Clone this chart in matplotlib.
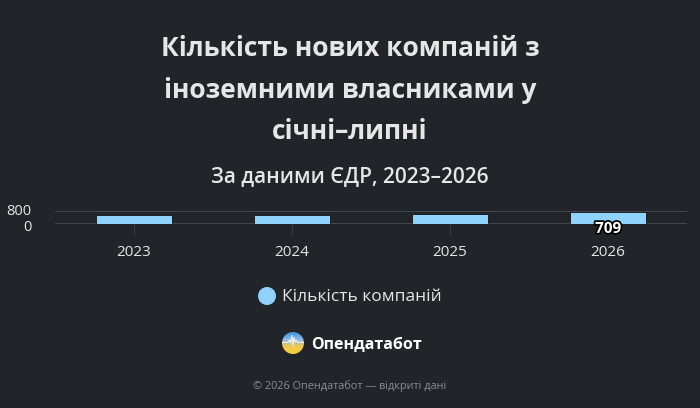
import numpy as np
import matplotlib
matplotlib.use("Agg")
import matplotlib.pyplot as plt
from matplotlib.patches import Circle, Ellipse
import matplotlib.patheffects as pe
import matplotlib.transforms as mtransforms

plt.rcParams['font.family'] = ['Open Sans', 'DejaVu Sans']

# data
years = ['2023', '2024', '2025', '2026']
companies = [560, 565, 630, 709]
labelled = [False, False, False, True]
y_ticks = [0, 800]

title = 'Кількість нових компаній з\nіноземними власниками у\nсічні–липні'
subtitle = 'За даними ЄДР, 2023–2026'
legend_label = 'Кількість компаній'
brand = 'Опендатабот'
footer = '© 2026 Опендатабот — відкриті дані'

bg = '#212428'
bar_color = '#8fd3fd'
text_color = '#e6e6e6'

W, H = 700, 408
fig = plt.figure(figsize=(W / 100, H / 100), dpi=100, facecolor=bg)

def fx(px):
    return px / W

def fy(py):
    return 1 - py / H

# titles
fig.text(0.5, fy(90), title, ha='center', va='center', fontsize=19,
         fontweight='bold', color=text_color, linespacing=1.68)
fig.text(0.5, fy(177), subtitle, ha='center', va='center', fontsize=15,
         fontweight='semibold', color=text_color)

# plot area
ax = fig.add_axes([fx(55), fy(224), fx(632), fy(211) - fy(224)])
ax.set_facecolor(bg)
x = np.arange(len(years))
ax.bar(x, companies, width=0.48, color=bar_color, edgecolor='#111316',
       linewidth=0.6, zorder=3)
ax.set_xlim(-0.5, len(years) - 0.5)
ax.set_ylim(0, 800)
ax.set_yticks(y_ticks)
ax.set_yticklabels([str(v) for v in y_ticks])
ax.set_xticks(x)
ax.set_xticklabels(years)
for s in ax.spines.values():
    s.set_visible(False)
ax.grid(axis='y', color='#4a4d52', linewidth=1.2, zorder=0)
ax.tick_params(axis='y', length=0, pad=17, labelsize=10.5, labelcolor=text_color)
ax.tick_params(axis='x', length=8, width=0.8, color='#3a3d42', pad=7,
               labelsize=11, labelcolor=text_color)
# nudge the two y labels apart a little so they do not collide
for lab, dy in zip(ax.get_yticklabels(), [-1.5, 1.5]):
    lab.set_transform(lab.get_transform() +
                      mtransforms.ScaledTranslation(0, dy / 100, fig.dpi_scale_trans))

for xi, v, show in zip(x, companies, labelled):
    if show:
        ax.annotate(str(v), (xi, 0), xytext=(0, -3.5), textcoords='offset points',
                    ha='center', va='center', fontsize=11,
                    fontweight='bold', color='white', zorder=5,
                    path_effects=[pe.withStroke(linewidth=2.5, foreground='black')])

# legend
fig.patches.append(Ellipse((fx(267), fy(296)), 18 / W, 18 / H,
                           transform=fig.transFigure,
                           facecolor=bar_color, edgecolor='none'))
fig.text(fx(282), fy(297), legend_label, ha='left', va='center',
         fontsize=12.5, color=text_color)

# logo
lax = fig.add_axes([fx(282), fy(354), 22 / W, 22 / H])
lax.set_xlim(-1, 1)
lax.set_ylim(-1, 1)
lax.axis('off')
grad = np.linspace(0, 1, 64)[:, None] * np.ones((1, 64))
cmap = matplotlib.colors.LinearSegmentedColormap.from_list(
    'logo', ['#f6d13a', '#f2c94c', '#8cbce8', '#3a8fd8'])
im = lax.imshow(grad, extent=(-1, 1, -1, 1), origin='lower', cmap=cmap,
                aspect='auto')
im.set_clip_path(Circle((0, 0), 1, transform=lax.transData))
lx = [-1, -0.45, -0.3, -0.2, -0.1, 0.0, 0.1, 0.2, 0.3, 0.45, 1]
ly = [0.05, 0.05, 0.3, 0.0, 0.7, -0.2, 0.5, 0.1, 0.25, 0.05, 0.05]
ln, = lax.plot(lx, ly, color='white', linewidth=0.8, alpha=0.8)
ln.set_clip_path(Circle((0, 0), 1, transform=lax.transData))
fig.text(fx(311), fy(345), brand, ha='left', va='center', fontsize=11.5,
         fontweight='bold', color='white')

# footer
fig.text(0.5, fy(386), footer, ha='center', va='center', fontsize=7.8,
         color='#8a8d91')

fig.savefig('out.png', dpi=100, facecolor=bg)
